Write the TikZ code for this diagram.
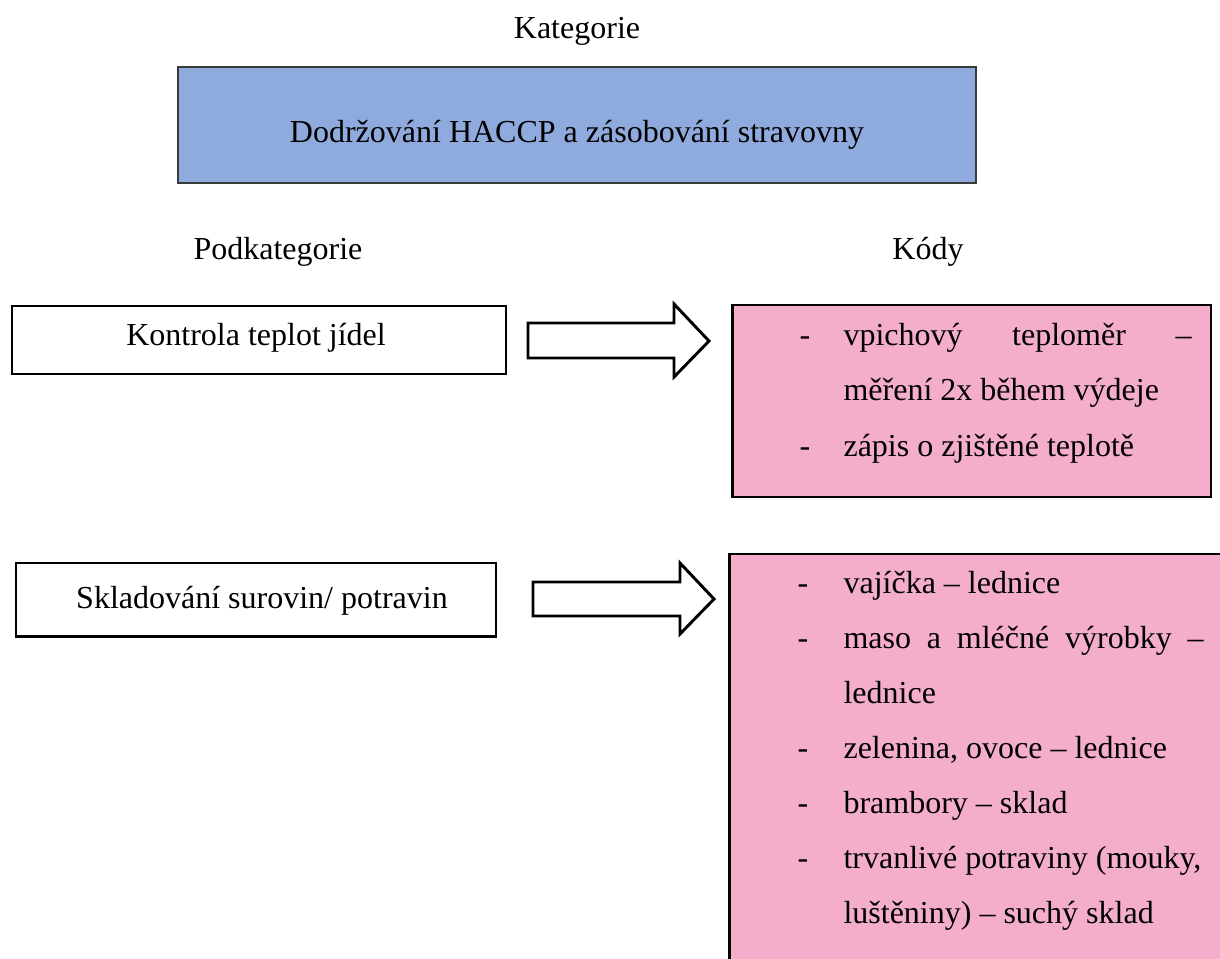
\documentclass[tikz,border=0pt]{standalone}
\usepackage{fontspec}
\setmainfont{Liberation Serif}
\definecolor{catblue}{HTML}{8FAADC}
\definecolor{codepink}{HTML}{F4AECB}
\definecolor{catedge}{HTML}{3A3A3A}
\tikzset{
  txt/.style={anchor=base, inner sep=0pt},
  ltxt/.style={anchor=base west, inner sep=0pt},
  catbox/.style={draw=catedge, line width=0.7pt, fill=catblue, inner sep=0pt},
  subbox/.style={draw=black, line width=1.1pt, fill=white, inner sep=0pt},
  codebox/.style={draw=black, line width=1.1pt, fill=codepink, inner sep=0pt},
  blockarrow/.style={draw=black, line width=1.1pt, fill=white, line join=miter}
}
\begin{document}
\begin{tikzpicture}[x=0.375pt,y=-0.375pt,font=\fontsize{12}{14}\selectfont]
\clip (0,0) rectangle (1220,958);
\fill[white] (0,0) rectangle (1220,958);

% Category
\node[txt] (kat) at (577,38) {Kategorie};
\node[catbox, minimum width=299.25pt, minimum height=43.5pt] (catb) at (577,125) {};
\node[txt] (catt) at (577,142) {Dodržování HACCP a zásobování stravovny};

\node[txt] (podk) at (278,259) {Podkategorie};
\node[txt] (kody) at (928,259) {Kódy};

% Subcategory boxes
\node[subbox, minimum width=185.25pt, minimum height=25.5pt] (sub1) at (259,340) {};
\node[txt] (sub1t) at (256,345) {Kontrola teplot jídel};
\node[subbox, minimum width=180pt, minimum height=27.4pt] (sub2) at (256,599.5) {};
\node[txt] (sub2t) at (262,608) {Skladování surovin/ potravin};

% Block arrows
\draw[blockarrow] (528,323) -- (674,323) -- (674,304) -- (709,341) -- (674,377) -- (674,358) -- (528,358) -- cycle;
\draw[blockarrow] (533,582) -- (680,582) -- (680,563) -- (714,599) -- (680,634) -- (680,616) -- (533,616) -- cycle;

% Code boxes
\node[codebox, minimum width=179.6pt, minimum height=72pt] (code1) at (971.5,401) {};
\node[codebox, minimum width=200pt, minimum height=200pt] (code2) at (996.5,820.67) {};

% Code box 1 text
\node[ltxt] (c1d1) at (799,345) {-};
\node[ltxt] (c1l1) at (843,345) {\makebox[130.5pt][l]{vpichový\hfill teploměr\hfill –}};
\node[ltxt] (c1l2) at (843,400.5) {měření 2x během výdeje};
\node[ltxt] (c1d3) at (799,456) {-};
\node[ltxt] (c1l3) at (843,456) {zápis o zjištěné teplotě};

% Code box 2 text
\node[ltxt] (c2d1) at (797,593) {-};
\node[ltxt] (c2l1) at (843,593) {vajíčka – lednice};
\node[ltxt] (c2d2) at (797,648) {-};
\node[ltxt] (c2l2) at (843,648) {\makebox[135pt][l]{maso\hfill a\hfill mléčné\hfill výrobky\hfill –}};
\node[ltxt] (c2l3) at (843,703) {lednice};
\node[ltxt] (c2d4) at (797,758) {-};
\node[ltxt] (c2l4) at (843,758) {zelenina, ovoce – lednice};
\node[ltxt] (c2d5) at (797,813) {-};
\node[ltxt] (c2l5) at (843,813) {brambory – sklad};
\node[ltxt] (c2d6) at (797,868) {-};
\node[ltxt] (c2l6) at (843,868) {trvanlivé potraviny (mouky,};
\node[ltxt] (c2l7) at (843,923) {luštěniny) – suchý sklad};
\end{tikzpicture}
\end{document}
